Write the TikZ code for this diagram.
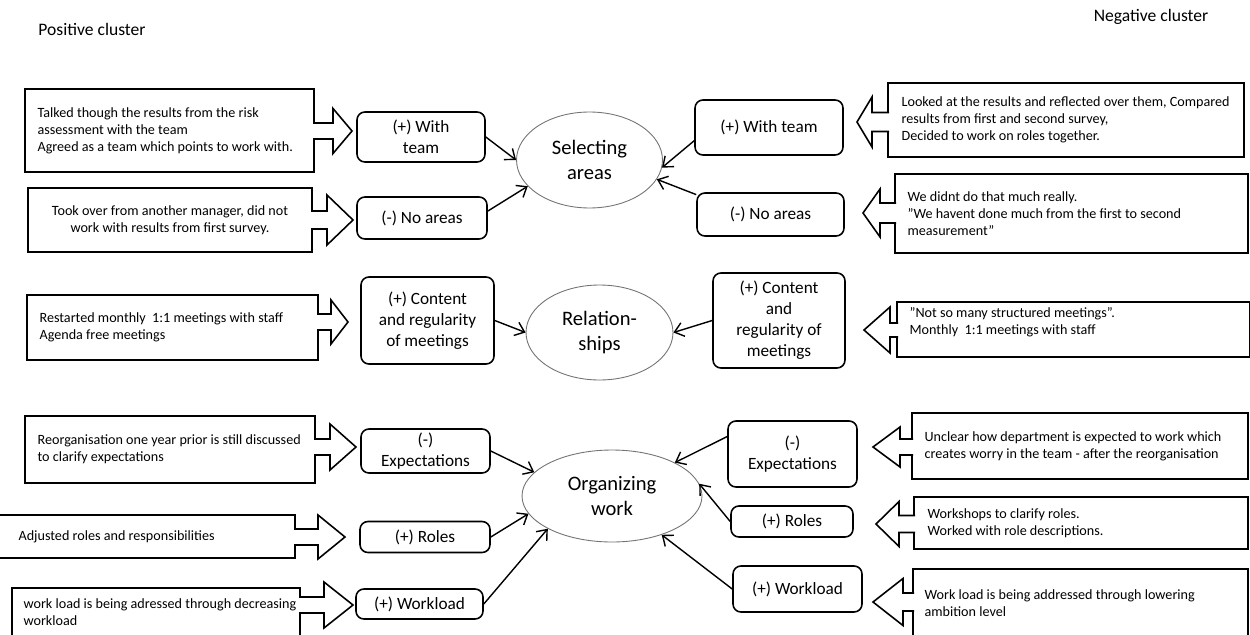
\documentclass[tikz,border=0pt]{standalone}
\usepackage{fontspec}
\setmainfont{Carlito}
\usetikzlibrary{arrows.meta, shapes.geometric, positioning}

\newcommand{\pointer}[6]{%
  \draw[pointer] (#1, #4-#5) -- (#2, #4-#5) -- (#2, #4-#6) -- (#3, #4) -- (#2, #4+#6) -- (#2, #4+#5) -- (#1, #4+#5);}

\begin{document}
\begin{tikzpicture}[x=0.02cm, y=-0.02cm,
    factor/.style={draw, rounded corners=4.5pt, line width=0.9pt, align=center, inner sep=0pt, font=\fontsize{9.8}{11.9}\selectfont},
    theme/.style={ellipse, draw=black!55, line width=0.5pt, align=center, inner sep=0pt, font=\fontsize{11.7}{14.2}\selectfont},
    note/.style={draw, line width=0.9pt, inner sep=0pt},
    memo/.style={inner sep=0pt, align=left, font=\fontsize{8.05}{9.6}\selectfont},
    pointer/.style={draw, fill=white, line width=0.9pt},
    link/.style={-{Straight Barb[length=5pt, width=8pt]}, line width=0.8pt},
    cluster/.style={font=\fontsize{10}{12}\selectfont}]
                            \path[use as bounding box, fill=white] (0, 0) rectangle (1250, 635);

                            \node (pos) at (92, 29) [cluster] {Positive cluster};
                            \node (neg) at (1151, 17) [cluster] {Negative cluster};

                            \node (sel) at (589.5, 160) [theme, minimum width=2.92cm, minimum height=1.92cm] {Selecting\\areas};
                            \node (rel) at (599.5, 332.5) [theme, minimum width=2.94cm, minimum height=1.9cm] {Relation-\\ships};
                            \node (org) at (612, 496) [theme, minimum width=3.6cm, minimum height=1.84cm] {Organizing\\work};

                            \node (wtL) at (421, 137) [factor, minimum width=2.56cm, minimum height=1cm] {(+) With\\team};
                            \node (naL) at (422, 218) [factor, minimum width=2.6cm, minimum height=0.84cm] {(-) No areas};
                            \node (cmL) at (427.5, 320.5) [factor, minimum width=2.66cm, minimum height=1.74cm] {(+) Content\\and regularity\\of meetings};
                            \node (exL) at (425.5, 451) [factor, minimum width=2.58cm, minimum height=0.88cm] {(-)\\Expectations};
                            \node (roL) at (425, 537) [factor, minimum width=2.6cm, minimum height=0.62cm] {(+) Roles};
                            \node (wlL) at (419.5, 604) [factor, minimum width=2.54cm, minimum height=0.6cm] {(+) Workload};

                            \node (wtR) at (769, 127.5) [factor, minimum width=2.96cm, minimum height=1.1cm] {(+) With team};
                            \node (naR) at (770.5, 214.5) [factor, minimum width=2.94cm, minimum height=0.86cm] {(-) No areas};
                            \node (cmR) at (779, 320.5) [factor, minimum width=2.64cm, minimum height=1.9cm] {(+) Content\\and\\regularity of\\meetings};
                            \node (exR) at (792.5, 454) [factor, minimum width=2.58cm, minimum height=1.32cm] {(-)\\Expectations};
                            \node (roR) at (792, 521.5) [factor, minimum width=2.44cm, minimum height=0.62cm] {(+) Roles};
                            \node (wlR) at (797.5, 589) [factor, minimum width=2.58cm, minimum height=0.92cm] {(+) Workload};

                            \node (cL1) at (169.5, 130.5) [note, minimum width=5.78cm, minimum height=1.66cm] {};
                            \node (cL2) at (170, 220) [note, minimum width=5.68cm, minimum height=1.28cm] {};
                            \node (cLm) at (172.5, 327.5) [note, minimum width=5.82cm, minimum height=1.3cm] {};
                            \node (cLb1) at (170, 449.5) [note, minimum width=5.8cm, minimum height=1.34cm] {};
                            \node (cLb2) at (145, 536.5) [note, minimum width=6cm, minimum height=0.86cm] {};
                            \node (cLb3) at (156, 612.5) [note, minimum width=5.76cm, minimum height=0.98cm] {};

                            \node (cR1) at (1066, 120) [note, minimum width=7.12cm, minimum height=1.48cm] {};
                            \node (cR2) at (1071.5, 213.5) [note, minimum width=7.06cm, minimum height=1.58cm] {};
                            \node (cRm) at (1073.5, 329.5) [note, minimum width=7.06cm, minimum height=1.1cm] {};
                            \node (cRb1) at (1080, 446) [note, minimum width=6.72cm, minimum height=1.32cm] {};
                            \node (cRb2) at (1081, 523) [note, minimum width=6.68cm, minimum height=1.04cm] {};
                            \node (cRb3) at (1080.5, 603.5) [note, minimum width=6.7cm, minimum height=1.38cm] {};

                            \node (tL1) [memo, right=0.26cm of cL1.west] {Talked though the results from the risk\\assessment with the team\\Agreed as a team which points to work with.};
                            \node (tL2) at (cL2) [memo, align=center] {Took over from another manager, did not\\work with results from first survey.};
                            \node (tLm) [memo, right=0.26cm of cLm.west] {Restarted monthly~ 1:1 meetings with staff\\Agenda free meetings};
                            \node (tLb1) [memo, right=0.26cm of cLb1.west] {Reorganisation one year prior is still discussed\\to clarify expectations};
                            \node (tLb2) [memo, right=0.48cm of cLb2.west] {Adjusted roles and responsibilities};
                            \node (tLb3) [memo, right=0.24cm of cLb3.west] {work load is being adressed through decreasing\\workload};

                            \node (tR1) [memo, right=0.28cm of cR1.west] {Looked at the results and reflected over them, Compared\\results from first and second survey,\\Decided to work on roles together.};
                            \node (tR2) [memo, right=0.26cm of cR2.west] {We didnt do that much really.\\”We havent done much from the first to second\\measurement”};
                            \node (tRm) [memo, right=0.26cm of cRm.west, yshift=0.14cm] {”Not so many structured meetings”.\\Monthly~ 1:1 meetings with staff};
                            \node (tRb1) [memo, right=0.26cm of cRb1.west] {Unclear how department is expected to work which\\creates worry in the team - after the reorganisation};
                            \node (tRb2) [memo, right=0.28cm of cRb2.west] {Workshops to clarify roles.\\Worked with role descriptions.};
                            \node (tRb3) [memo, right=0.24cm of cRb3.west] {Work load is being addressed through lowering\\ambition level};

                            \pointer{313}{333}{352}{131}{8}{22.5}
                            \pointer{311}{327}{353}{220}{9}{25}
                            \pointer{317}{331}{348}{322}{8}{22}
                            \pointer{314}{330}{356}{447}{8}{23}
                            \pointer{294}{318}{345}{537}{8}{22}
                            \pointer{299}{324}{353}{605}{8}{23}
                            \pointer{889}{872}{857}{122}{9.5}{25}
                            \pointer{896}{880}{863}{213}{10}{24}
                            \pointer{898}{890}{864}{330}{7}{23}
                            \pointer{913}{900}{873}{447}{8}{20}
                            \pointer{915}{899}{876}{524}{8.5}{22.5}
                            \pointer{914}{903}{873}{602}{9}{23.5}

                            \draw[link] (wtL.east) -- (sel.west);
                            \draw[link] (naL.6) -- (sel.203);
                            \draw[link] (wtR.190) -- (sel.354);
                            \draw[link] (naR.165) -- (sel.344);
                            \draw[link] (cmL.east) -- (rel.west);
                            \draw[link] (cmR.west) -- (rel.east);
                            \draw[link] (exL.east) -- (org.163);
                            \draw[link] (roL.east) -- (org.192);
                            \draw[link] (wlL.east) -- (org.207);
                            \draw[link] (exR.165) -- (org.28);
                            \draw[link] (roR.west) -- (org.8);
                            \draw[link] (wlR.west) -- (org.322);
                        \end{tikzpicture}
\end{document}
